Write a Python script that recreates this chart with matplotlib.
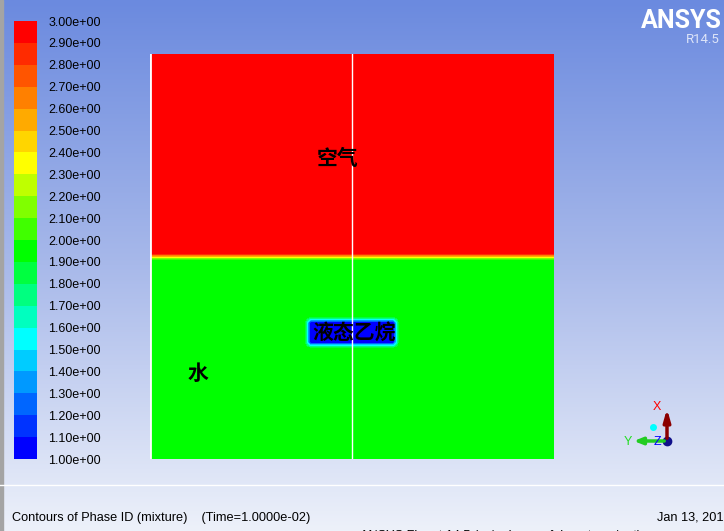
import numpy as np
import matplotlib.pyplot as plt
from matplotlib.colors import ListedColormap, BoundaryNorm, LinearSegmentedColormap
from matplotlib.cm import ScalarMappable

plt.rcParams["font.family"] = ["Liberation Sans", "DejaVu Sans"]

# --- data ---
phase_ids = [1, 2, 3]
phase_names = ["液态乙烷", "水", "空气"]
label_x = [0.505, 0.119, 0.465]
label_y = [0.311, 0.212, 0.743]
interface_y = 0.5            # water / air
blob_x = [0.398, 0.604]      # liquid ethane droplet
blob_y = [0.281, 0.348]
levels = np.linspace(1.0, 3.0, 21)
band_colors = ["#0000ff", "#0033ff", "#0066ff", "#0099ff", "#00ccff",
               "#00ffff", "#00ffbf", "#00ff80", "#00ff40", "#00ff00",
               "#40ff00", "#80ff00", "#bfff00", "#ffff00", "#ffd500",
               "#ffaa00", "#ff8000", "#ff5500", "#ff2b00", "#ff0000"]
title_text = "Contours of Phase ID (mixture)    (Time=1.0000e-02)"
date_text = "Jan 13, 2015"
solver_text = "ANSYS Fluent 14.5 (axi, pbns, vof, lam, transient)"

W, H = 724, 531
fig = plt.figure(figsize=(W / 100, H / 100), dpi=100)


def px(x0, y0, x1, y1):
    return [x0 / W, 1 - y1 / H, (x1 - x0) / W, (y1 - y0) / H]


# background gradient + annotations (pixel coordinates)
ax_bg = fig.add_axes([0, 0, 1, 1])
bg_cmap = LinearSegmentedColormap.from_list("bg", ["#6b8adf", "#a8b9ea", "#edf1fa"])
ax_bg.imshow(np.linspace(0, 1, 256)[:, None], aspect="auto", cmap=bg_cmap,
             extent=[0, W, H, 0])
ax_bg.set_xlim(0, W)
ax_bg.set_ylim(H, 0)
ax_bg.axis("off")
ax_bg.axvspan(0, 2.5, color="#a4a4a4")
ax_bg.axhline(485, color="white", lw=1)

ax_bg.text(641, 28, "ANSYS", color="white", fontsize=18, fontweight="bold",
           family="Roboto", ha="left", va="baseline")
ax_bg.text(720, 43, "R14.5", color="#dde4f8", fontsize=9.5, family="Roboto",
           ha="right", va="baseline")
ax_bg.text(12, 521, title_text, fontsize=9.2, ha="left", va="baseline")
ax_bg.text(657, 521, date_text, fontsize=9.2, ha="left", va="baseline")
ax_bg.text(360, 539, solver_text, fontsize=9.2, ha="left", va="baseline")

# axis triad
ax_bg.annotate("", xy=(667, 406), xytext=(667, 441),
               arrowprops=dict(arrowstyle="-|>,head_width=0.2,head_length=0.7",
                               color="#8b0000", lw=2.5))
ax_bg.annotate("", xy=(631, 441), xytext=(667, 441),
               arrowprops=dict(arrowstyle="-|>,head_width=0.2,head_length=0.5",
                               color="#22cc22", lw=2.5))
ax_bg.plot(667, 441, "o", color="#10108a", ms=6)
ax_bg.plot(653, 427, "o", color="#00ffff", ms=4)
ax_bg.text(657, 407, "X", color="red", fontsize=9, ha="center", va="center")
ax_bg.text(628, 442, "Y", color="#22dd22", fontsize=9, ha="center", va="center")
ax_bg.text(657, 442, "Z", color="blue", fontsize=9, ha="center", va="center")

# phase field on cell centres
n = 64
c = (np.arange(n) + 0.5) / n
X, Y = np.meshgrid(c, c)
field = np.where(Y > interface_y, phase_ids[2], phase_ids[1]).astype(float)
in_blob = (X > blob_x[0]) & (X < blob_x[1]) & (Y > blob_y[0]) & (Y < blob_y[1])
field[in_blob] = phase_ids[0]

cmap = ListedColormap(band_colors)
cmap.set_under(band_colors[0])
cmap.set_over(band_colors[-1])
field_norm = BoundaryNorm(levels + 1e-6, cmap.N)

ax = fig.add_axes(px(150, 54, 554, 459))
ax.imshow(field, origin="lower", extent=[0, 1, 0, 1], cmap=cmap, norm=field_norm,
          interpolation="bilinear", interpolation_stage="data", aspect="auto")
ax.axvline(0.5, color="white", lw=1)
ax.axvline(0.0, color="white", lw=2)
ax.set_xlim(0, 1)
ax.set_ylim(0, 1)
ax.axis("off")
for name, lx, ly in zip(phase_names, label_x, label_y):
    ax.text(lx, ly, name, fontsize=15, fontweight="bold", color="black",
            family=["Noto Sans CJK SC", "DejaVu Sans"], ha="center", va="center")

# colour bar
cax = fig.add_axes(px(14, 21, 37, 459))
sm = ScalarMappable(norm=BoundaryNorm(levels, cmap.N), cmap=cmap)
cb = fig.colorbar(sm, cax=cax, ticks=levels, format="%.2e")
cb.outline.set_visible(False)
cax.tick_params(length=0, pad=8, labelsize=9)

fig.savefig("out.png", dpi=100)
